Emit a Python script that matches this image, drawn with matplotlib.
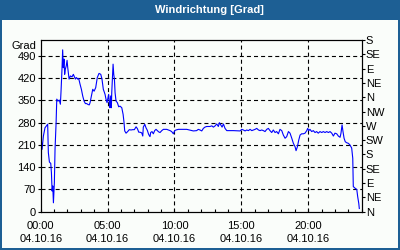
import matplotlib
matplotlib.use('Agg')
import matplotlib.pyplot as plt
import matplotlib.patches as mpatches
import matplotlib.transforms as mtransforms
import numpy as np

plt.rcParams['font.family'] = ['Liberation Sans', 'DejaVu Sans']
plt.rcParams['lines.scale_dashes'] = False

# time of day in hours, wind direction in degrees (values above 360 = wrapped)
hours = [0.02, 0.10, 0.20, 0.32, 0.47, 0.52, 0.57, 0.65, 0.75, 0.80, 0.85, 0.90, 0.95,
         1.02, 1.07, 1.15, 1.20, 1.29, 1.39, 1.47, 1.52, 1.59, 1.64, 1.69, 1.74, 1.79,
         1.84, 1.91, 1.97, 2.02, 2.07, 2.12, 2.22, 2.34, 2.44, 2.54, 2.59, 2.66, 2.77,
         2.84, 2.94, 3.04, 3.14, 3.24, 3.34, 3.44, 3.54, 3.63, 3.69, 3.81, 3.89, 3.99,
         4.11, 4.23, 4.36, 4.49, 4.58, 4.68, 4.81, 4.88, 4.96, 5.03, 5.08, 5.13, 5.18,
         5.23, 5.28, 5.31, 5.36, 5.41, 5.46, 5.51, 5.56, 5.63, 5.73, 5.83, 5.93, 6.06,
         6.16, 6.23, 6.28, 6.38, 6.50, 6.62, 6.75, 6.88, 7.00, 7.13, 7.23, 7.33, 7.42,
         7.55, 7.63, 7.67, 7.78, 7.87, 7.97, 8.07, 8.17, 8.22, 8.32, 8.42, 8.52, 8.62,
         8.72, 8.82, 8.92, 9.05, 9.17, 9.30, 9.42, 9.54, 9.67, 9.79, 9.92, 10.02, 10.12,
         10.29, 10.41, 10.92, 11.41, 11.66, 11.78, 11.91, 12.04, 12.16, 12.28, 12.41,
         12.66, 12.79, 12.91, 13.04, 13.16, 13.28, 13.36, 13.46, 13.56, 13.66, 13.78,
         13.91, 14.40, 14.90, 15.03, 15.15, 15.28, 15.40, 15.53, 15.65, 15.78, 15.90,
         16.03, 16.15, 16.28, 16.40, 16.52, 16.65, 16.77, 16.90, 17.02, 17.14, 17.27,
         17.39, 17.52, 17.64, 17.77, 17.89, 18.02, 18.14, 18.27, 18.39, 18.52, 18.64,
         18.77, 18.89, 19.02, 19.09, 19.19, 19.29, 19.39, 19.51, 19.64, 19.76, 19.89,
         19.96, 20.04, 20.13, 20.26, 20.38, 20.51, 20.63, 20.75, 20.88, 21.01, 21.13,
         21.26, 21.38, 21.51, 21.63, 21.76, 21.88, 22.00, 22.13, 22.25, 22.38, 22.45,
         22.53, 22.60, 22.68, 22.77, 22.87, 23.00, 23.12, 23.25, 23.33, 23.37, 23.50,
         23.63, 23.70, 23.78, 23.82]
degrees = [238, 196, 238, 264, 272, 275, 186, 156, 152, 123, 65, 81, 28,
           91, 196, 280, 354, 348, 351, 338, 380, 448, 509, 453, 480, 432,
           448, 459, 476, 453, 434, 417, 427, 424, 432, 422, 417, 422, 417,
           419, 401, 385, 364, 348, 340, 340, 337, 336, 343, 369, 385, 379,
           390, 422, 435, 432, 417, 385, 369, 354, 343, 359, 369, 343, 327,
           364, 327, 374, 417, 464, 432, 417, 374, 348, 343, 330, 332, 327,
           306, 280, 254, 247, 252, 258, 257, 258, 258, 267, 261, 250, 250,
           248, 238, 266, 275, 264, 256, 243, 236, 249, 252, 245, 255, 259,
           255, 251, 249, 255, 259, 259, 259, 257, 255, 252, 245, 255, 257,
           259, 259, 259, 254, 255, 259, 257, 254, 262, 266, 268,
           268, 270, 266, 270, 276, 268, 280, 273, 266, 276, 262,
           255, 255, 254, 259, 257, 254, 257, 255, 259, 255, 257,
           259, 262, 257, 255, 257, 255, 252, 259, 262, 255, 249,
           257, 249, 252, 245, 259, 255, 241, 231, 236, 252, 247,
           231, 215, 204, 192, 204, 225, 241, 245, 245, 247, 255,
           262, 255, 259, 252, 255, 249, 252, 247, 252, 249, 252,
           249, 252, 249, 252, 247, 238, 247, 245, 238, 234, 247,
           273, 252, 231, 220, 217, 215, 210, 200, 168, 79, 74,
           70, 47, 26, 10]

left_ticks = [0, 70, 140, 210, 280, 350, 420, 490]
right_ticks = [0, 45, 90, 135, 180, 225, 270, 315, 360, 405, 450, 495, 540]
right_labels = ['N', 'NE', 'E', 'SE', 'S', 'SW', 'W', 'NW', 'N', 'NE', 'E', 'SE', 'S']
x_major = [0, 5, 10, 15, 20]
x_labels = ['00:00\n04.10.16', '05:00\n04.10.16', '10:00\n04.10.16',
            '15:00\n04.10.16', '20:00\n04.10.16']

blue = '#1d5f94'
bg = '#fafdfa'

fig = plt.figure(figsize=(4, 2.5), dpi=100, facecolor=bg)

# frame and title bar
fig.patches.append(mpatches.Rectangle((0, 0.92), 1, 0.08, transform=fig.transFigure,
                                      facecolor=blue, edgecolor='none', zorder=0))
fig.patches.append(mpatches.Rectangle((0, 0), 0.005, 1, transform=fig.transFigure,
                                      facecolor=blue, edgecolor='none', zorder=0))
fig.patches.append(mpatches.Rectangle((0.995, 0), 0.005, 1, transform=fig.transFigure,
                                      facecolor=blue, edgecolor='none', zorder=0))
fig.patches.append(mpatches.Rectangle((0, 0), 1, 0.008, transform=fig.transFigure,
                                      facecolor=blue, edgecolor='none', zorder=0))
fig.text(0.523, 0.96, 'Windrichtung [Grad]', color='white', fontsize=8,
         fontweight='bold', ha='center', va='center')

ax = fig.add_axes([0.1018, 0.1532, 0.8025, 0.6868])
ax.set_facecolor(bg)
ax.plot(hours, degrees, color='#0000ff', lw=0.8)

ax.set_xlim(0, 24)
ax.set_ylim(0, 540)

ax.set_yticks(left_ticks)
ax.set_yticklabels([str(t) for t in left_ticks])
ax.set_xticks(x_major)
ax.set_xticklabels(x_labels, linespacing=1.45)
ax.set_xticks(np.arange(0, 25, 1), minor=True)
ax.tick_params(axis='y', direction='out', length=2.5, width=0.8, pad=1,
               labelsize=8, colors='black')
ax.tick_params(axis='x', which='both', direction='in', length=2.5, width=0.8,
               pad=6.5, labelsize=8)

for v in left_ticks[1:]:
    ax.axhline(v, color='black', lw=0.8, ls=(0, (2.9, 2.2)), zorder=1)
for v in x_major[1:]:
    ax.axvline(v, color='black', lw=0.8, ls=(0, (2.9, 2.2)), zorder=1)

for sp in ax.spines.values():
    sp.set_linewidth(0.8)

trans = mtransforms.blended_transform_factory(ax.transAxes, ax.transData)
ax.text(-0.012, 522, 'Grad', transform=trans, ha='right', va='center', fontsize=8)

ax2 = ax.twinx()
ax2.set_ylim(0, 540)
ax2.set_yticks(right_ticks)
ax2.set_yticklabels(right_labels)
ax2.tick_params(axis='y', direction='out', length=2.5, width=0.8, pad=0.5, labelsize=8)

fig.savefig('out.png', dpi=100, facecolor=bg)
